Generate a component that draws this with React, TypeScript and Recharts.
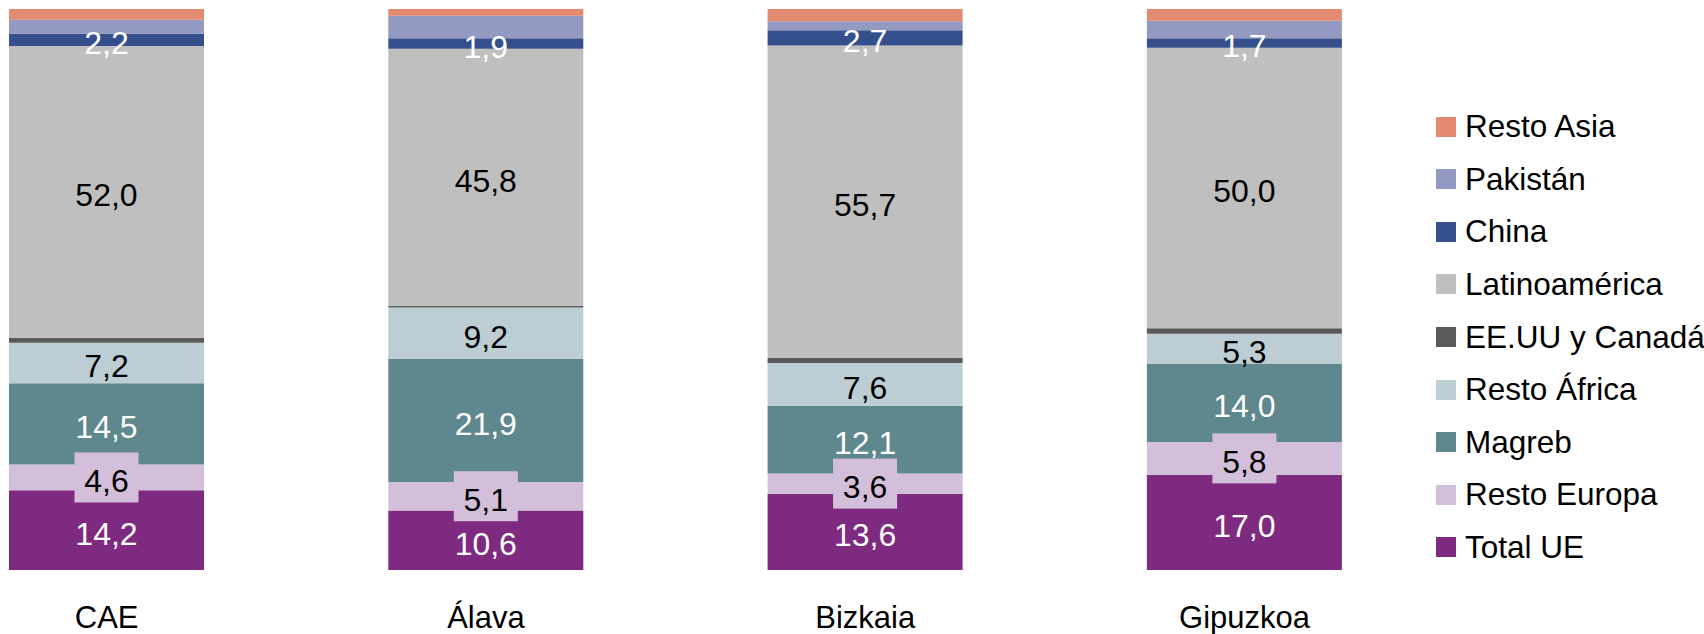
import React from 'react';
import { BarChart, Bar, XAxis, YAxis, Legend, LabelList } from 'recharts';

const categories = ['CAE', 'Álava', 'Bizkaia', 'Gipuzkoa'];
const totalUE = [14.2, 10.6, 13.6, 17.0];
const restoEuropa = [4.6, 5.1, 3.6, 5.8];
const magreb = [14.5, 21.9, 12.1, 14.0];
const restoAfrica = [7.2, 9.2, 7.6, 5.3];
const eeuuCanada = [0.9, 0.3, 0.9, 1.0];
const latinoamerica = [52.0, 45.8, 55.7, 50.0];
const china = [2.2, 1.9, 2.7, 1.7];
const pakistan = [2.5, 4.0, 1.6, 3.1];
const restoAsia = [1.9, 1.2, 2.2, 2.1];

const seriesNames = ['Total UE', 'Resto Europa', 'Magreb', 'Resto África', 'EE.UU y Canadá', 'Latinoamérica', 'China', 'Pakistán', 'Resto Asia'];
const seriesValues = [totalUE, restoEuropa, magreb, restoAfrica, eeuuCanada, latinoamerica, china, pakistan, restoAsia];
const seriesColors = ['#7E2A80', '#D4BFDA', '#5F878E', '#BCCED4', '#595959', '#BFBFBF', '#344F8C', '#9499C1', '#E3896F'];
const labelColors: (string | null)[] = ['#FFFFFF', '#000000', '#FFFFFF', '#000000', null, '#000000', '#FFFFFF', null, null];
const labelBoxed = [false, true, false, false, false, false, false, false, false];

const data = categories.map((c, i) => {
  const row: Record<string, any> = { name: c };
  seriesValues.forEach((arr, s) => { row['s' + s] = arr[i]; });
  return row;
});

const FONT = '"Liberation Sans", Arial, sans-serif';
const fmt = (v: any) => Number(v).toFixed(1).replace('.', ',');

const makeLabel = (color: string, boxFill: string | null) => (props: any) => {
  const { x, y, width, height, value } = props;
  const cx = Number(x) + Number(width) / 2;
  const cy = Number(y) + Number(height) / 2;
  return (
    <g>
      {boxFill && <rect x={cx - 32} y={cy - 25} width={64} height={50} fill={boxFill} />}
      <text x={cx} y={cy + 3.5} textAnchor="middle" dominantBaseline="central" fill={color} fontSize={32} fontFamily={FONT}>
        {fmt(value)}
      </text>
    </g>
  );
};

const CategoryTick = (props: any) => {
  const { x, y, payload } = props;
  return (
    <text x={x} y={Number(y) + 58} textAnchor="middle" fill="#000" fontSize={31} fontFamily={FONT}>
      {payload.value}
    </text>
  );
};

const LegendContent = () => {
  const order = seriesNames.map((n, i) => i).reverse();
  return (
    <div style={{ fontFamily: FONT, fontSize: 31.5, color: '#000' }}>
      {order.map((i) => (
        <div key={i} style={{ display: 'flex', alignItems: 'center', height: 52.6, whiteSpace: 'nowrap' }}>
          <span style={{ display: 'inline-block', width: 20, height: 20, background: seriesColors[i], marginRight: 9 }} />
          <span>{seriesNames[i]}</span>
        </div>
      ))}
    </div>
  );
};

export default function App() {
  return (
    <div style={{ position: 'relative', width: 1704, height: 634, overflow: 'hidden', background: '#fff' }}>
      <style>{`body{margin:0;}`}</style>
      <div style={{ position: 'absolute', left: -82.65, top: 0 }}>
        <BarChart
          width={1786.65}
          height={634}
          data={data}
          margin={{ top: 9, right: 269.45, bottom: 0, left: 0 }}
          barSize={195}
        >
          <XAxis dataKey="name" axisLine={false} tickLine={false} tickSize={0} tickMargin={0} height={64} tick={<CategoryTick />} interval={0} />
          <YAxis hide domain={[0, 100]} allowDataOverflow />
          <Legend
            layout="vertical"
            align="center"
            verticalAlign="middle"
            content={<LegendContent />}
            wrapperStyle={{ left: 1518.65, top: 100.4, width: 320 }}
          />
          {seriesNames.map((n, s) => (
            <Bar key={n} dataKey={'s' + s} name={n} stackId="a" fill={seriesColors[s]} isAnimationActive={false}>
              {labelColors[s] && (
                <LabelList dataKey={'s' + s} content={makeLabel(labelColors[s] as string, labelBoxed[s] ? seriesColors[s] : null)} />
              )}
            </Bar>
          ))}
        </BarChart>
      </div>
    </div>
  );
}
